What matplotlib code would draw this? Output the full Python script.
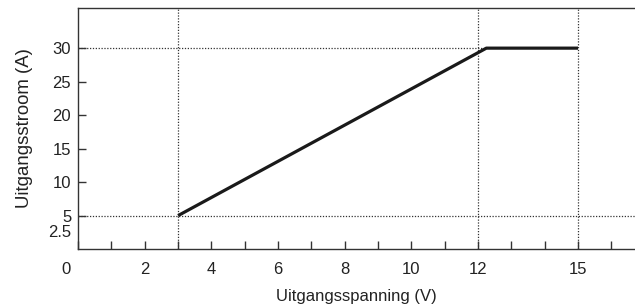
import matplotlib.pyplot as plt

plt.rcParams['font.family'] = ['Liberation Sans', 'DejaVu Sans']

# characteristic curve
voltage = [3, 12.25, 15]
current = [5, 30, 30]

# reference lines
vlines_x = [3, 12, 15]
hline_30_end = 12.25

x_ticks = list(range(0, 17))
x_labels = {2: '2', 4: '4', 6: '6', 8: '8', 10: '10', 12: '12', 15: '15'}
y_ticks = [5, 10, 15, 20, 25, 30]

fig = plt.figure(figsize=(6.35, 3.06), dpi=100)
ax = fig.add_axes([0.123, 0.186, 0.877, 0.788])
ax.set_xlim(0, 16.71)
ax.set_ylim(0, 36)

dot = dict(color='#333333', linewidth=0.9, linestyle=(0, (1, 1.3)), zorder=1)
for x in vlines_x:
    ax.axvline(x, **dot)
ax.plot([0, hline_30_end], [30, 30], **dot)
ax.axhline(5, **dot)

ax.plot(voltage, current, color='#1a1a1a', linewidth=2.3, solid_capstyle='butt', zorder=3)

ax.spines['right'].set_visible(False)
for s in ['left', 'top', 'bottom']:
    ax.spines[s].set_color('#333333')
    ax.spines[s].set_linewidth(1.0)

ax.set_xticks(x_ticks)
ax.set_xticklabels([x_labels.get(t, '') for t in x_ticks])
ax.set_yticks(y_ticks)
ax.tick_params(axis='x', direction='in', length=6, width=1, pad=9, colors='#333333',
               labelsize=12, labelcolor='#222222')
ax.tick_params(axis='y', direction='in', length=6, width=1, pad=5, colors='#333333',
               labelsize=12, labelcolor='#222222')

# extra labels: 2.5 without tick, origin label "0"
ax.annotate('2.5', xy=(0, 2.5), xycoords='data', xytext=(-5, 0), textcoords='offset points',
            ha='right', va='center', fontsize=12, color='#222222')
ax.annotate('0', xy=(0, 0), xycoords='data', xytext=(-9, -9), textcoords='offset points',
            ha='center', va='top', fontsize=12, color='#222222')

ax.set_xlabel('Uitgangsspanning (V)', fontsize=12, color='#222222', labelpad=9)
ax.set_ylabel('Uitgangsstroom (A)', fontsize=13.4, color='#222222', labelpad=14)

fig.savefig('out.png', dpi=100)
